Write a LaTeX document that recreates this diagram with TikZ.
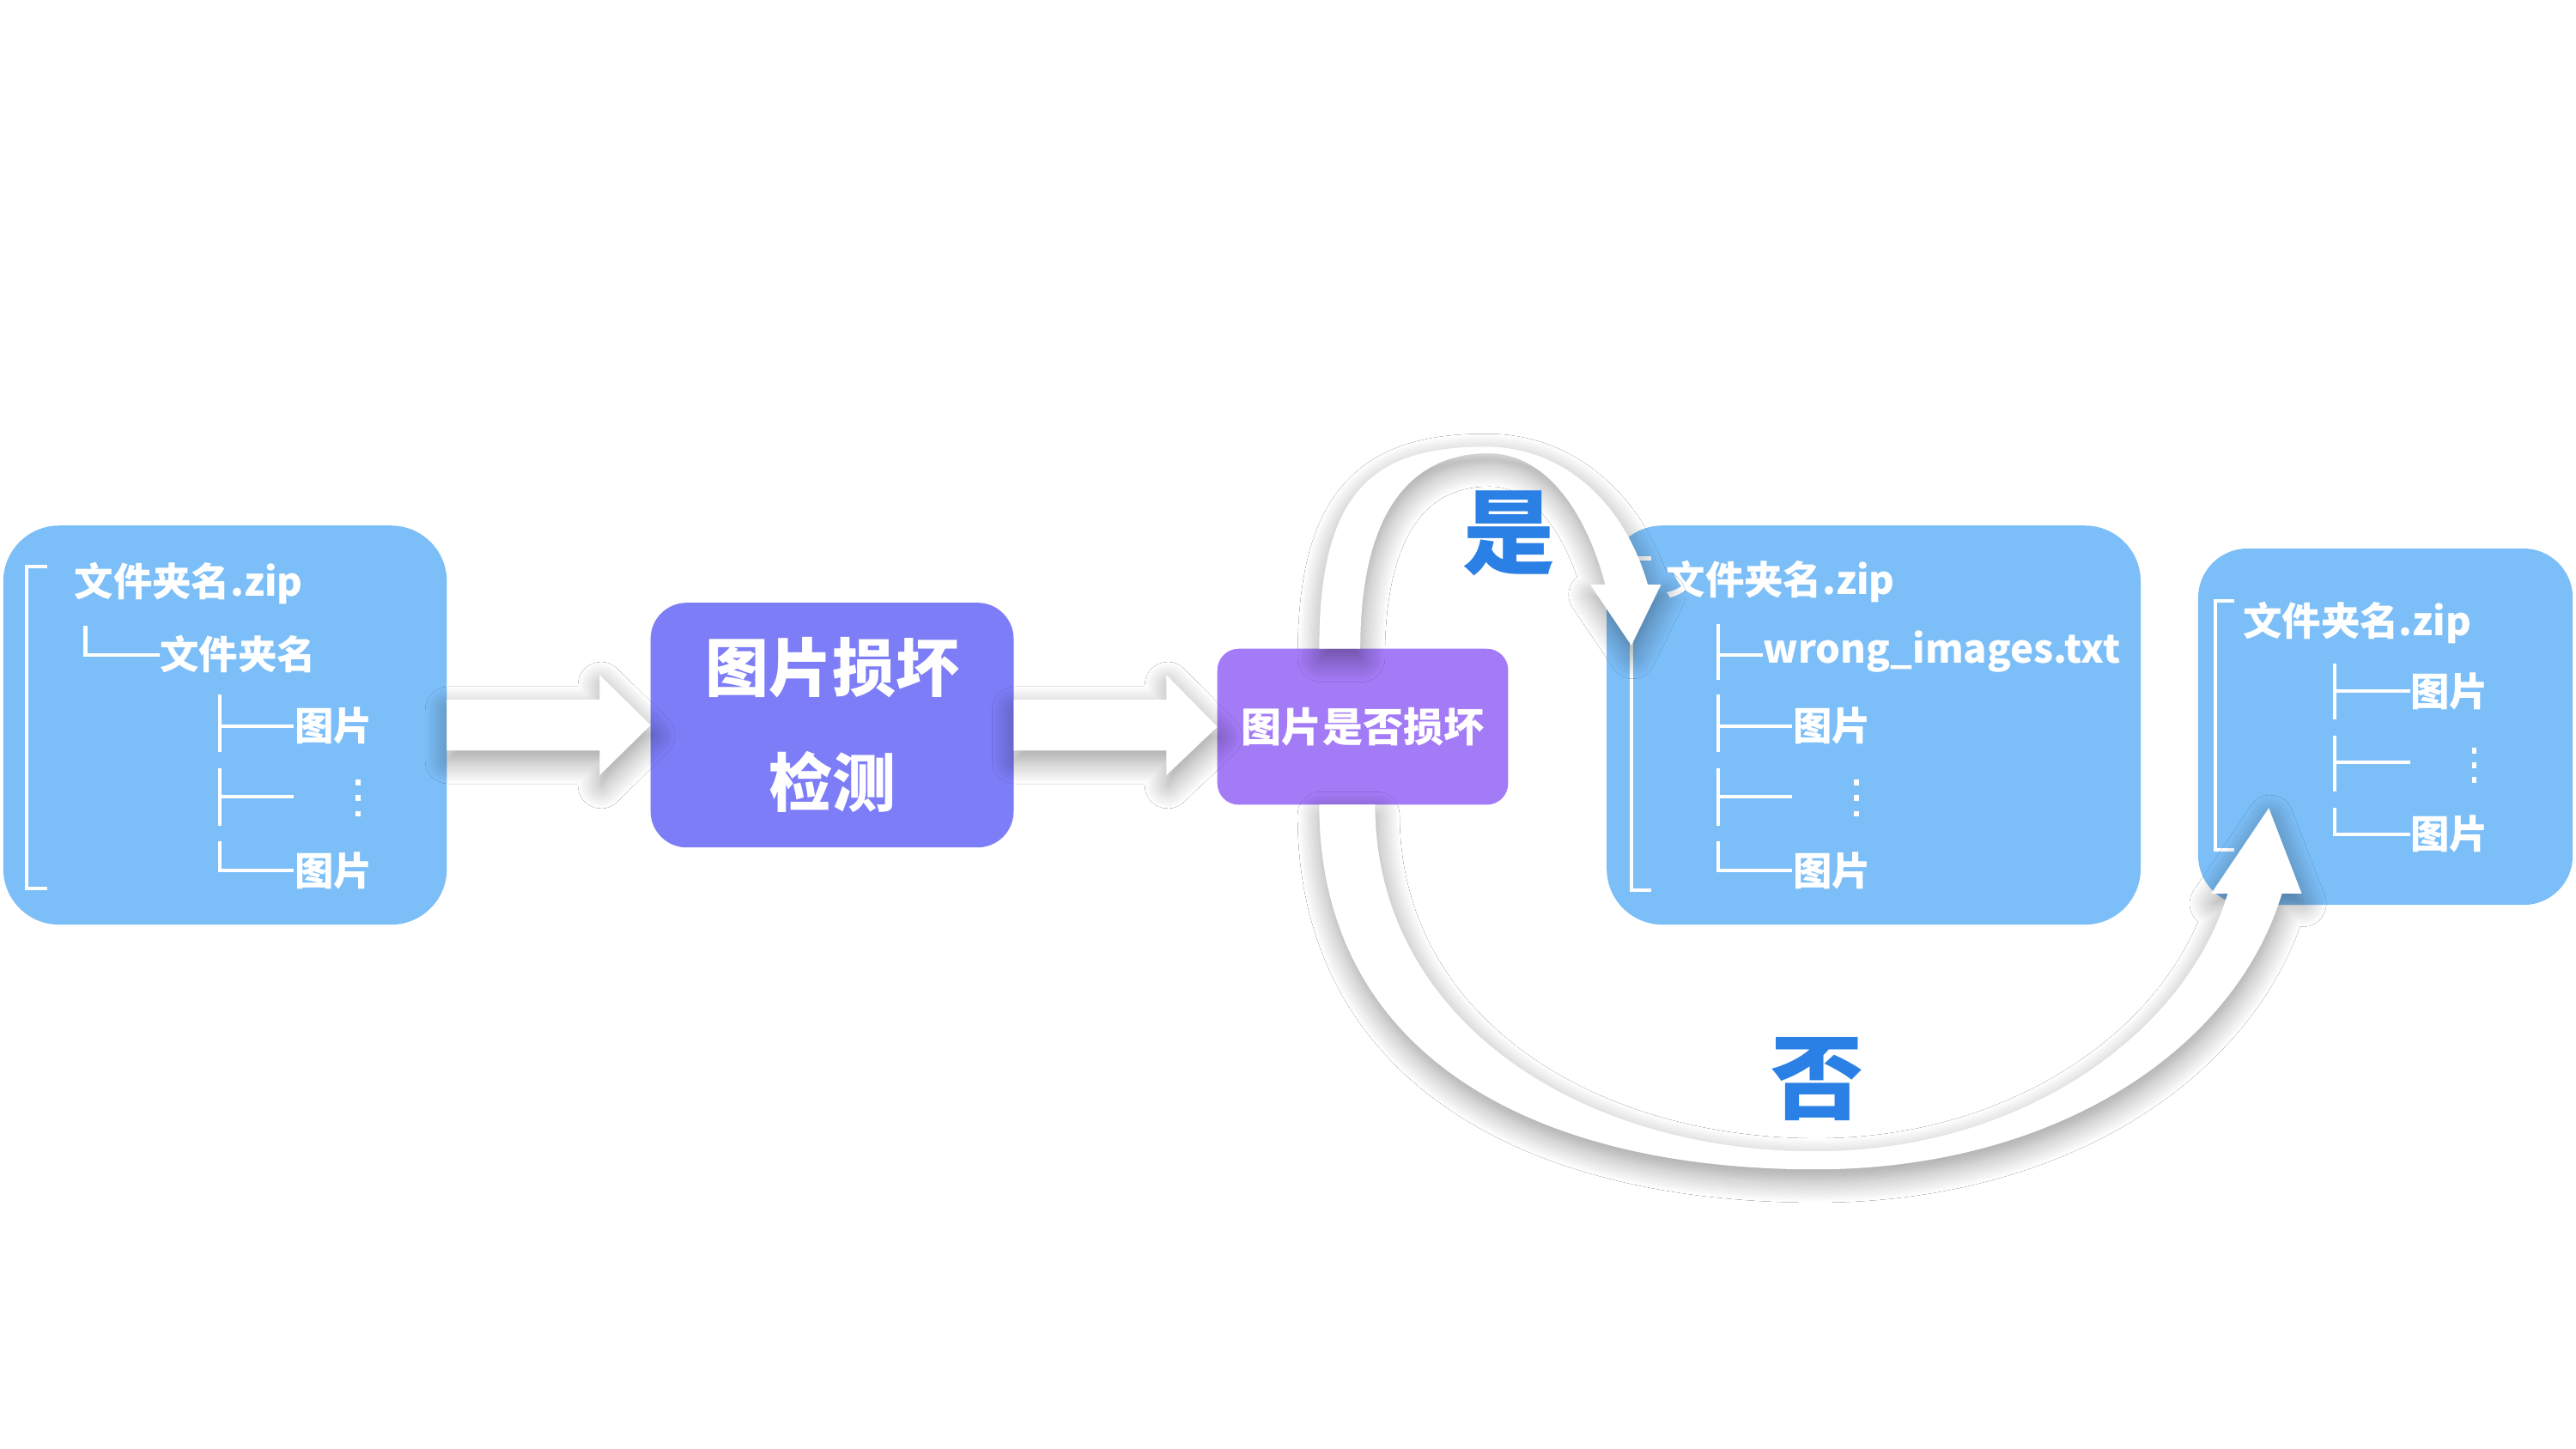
\documentclass[tikz,border=0pt]{standalone}
\usepackage{fontspec}
\newfontfamily\cjk{Noto Sans CJK SC}
\usetikzlibrary{calc,shadows.blur}
\newlength\uu
\setlength\uu{0.2mm}
\definecolor{boxblue}{RGB}{124,190,247}
\definecolor{boxviolet}{RGB}{125,125,248}
\definecolor{boxpurple}{RGB}{164,123,247}
\definecolor{labelblue}{RGB}{42,128,228}
\tikzset{
  panel/.style={rounded corners=34\uu, inner sep=0pt, outer sep=0pt, draw=none, fill=boxblue},
  treeline/.style={white, line width=1.2pt},
  treetxt/.style={text=white, font=\cjk\bfseries\fontsize{13.5}{15}\selectfont, anchor=west, inner sep=0pt},
  dotsq/.style={fill=white, draw=none},
  bigarrow/.style={fill=white, draw=none, blur shadow={shadow xshift=0.5pt, shadow yshift=-3.5pt, shadow blur radius=8pt, shadow blur steps=12, shadow opacity=40}},
  answer/.style={text=labelblue, font=\cjk\bfseries\fontsize{32}{34}\selectfont, inner sep=0pt},
}
\begin{document}
\begin{tikzpicture}[x=0.2mm,y=-0.2mm]
\useasboundingbox (0,0) rectangle (1568,882);
\fill[white] (0,0) rectangle (1568,882);

% ---------- boxes ----------
\node[panel, minimum width=270\uu, minimum height=243\uu] (b1) at (137,441.5) {};
\node[panel, rounded corners=22\uu, fill=boxviolet, minimum width=221\uu, minimum height=149\uu,
      text=white, align=center, font=\cjk\bfseries\fontsize{22}{40}\selectfont] (b2) at (506.5,441.5) {图片损坏\\检测};
\node[panel, rounded corners=13\uu, fill=boxpurple, minimum width=177\uu, minimum height=95\uu,
      text=white, font=\cjk\bfseries\fontsize{14}{16}\selectfont] (b3) at (829.5,442.5) {图片是否损坏};
\node[panel, minimum width=325\uu, minimum height=243\uu] (b4) at (1140.5,441.5) {};
\node[panel, rounded corners=30\uu, minimum width=228\uu, minimum height=217\uu] (b5) at (1452,442.5) {};

% ---------- tree in box 1 ----------
\draw[treeline] (29,345) -- (16,345) -- (16,541) -- (29,541);
\node[treetxt] (t1a) at (45,355) {文件夹名.zip};
\draw[treeline] (52,381) |- (97,399);
\node[treetxt] (t1b) at (97,398) {文件夹名};
\draw[treeline] (134,423) -- (134,458) (134,442) -- (179,442);
\node[treetxt] (t1c) at (179,442) {图片};
\draw[treeline] (134,468) -- (134,503) (134,485) -- (179,485);
\foreach \yy in {476.5,486,495.5} \fill[dotsq] (216.5,\yy-1.8) rectangle (219.5,\yy+1.8);
\draw[treeline] (134,512) |- (179,530);
\node[treetxt] (t1d) at (179,530) {图片};

% ---------- tree in box 4 ----------
\draw[treeline] (1005,340) -- (993,340) -- (993,542) -- (1005,542);
\node[treetxt] (t4a) at (1014,354) {文件夹名.zip};
\draw[treeline] (1046,380) -- (1046,414) (1046,399) -- (1073,399);
\node[treetxt] (t4b) at (1073,397) {wrong\_images.txt};
\draw[treeline] (1046,423) -- (1046,458) (1046,442) -- (1091,442);
\node[treetxt] (t4c) at (1091,442) {图片};
\draw[treeline] (1046,468) -- (1046,503) (1046,485) -- (1091,485);
\foreach \yy in {476.5,486,495.5} \fill[dotsq] (1128.5,\yy-1.8) rectangle (1131.5,\yy+1.8);
\draw[treeline] (1046,512) |- (1091,530);
\node[treetxt] (t4d) at (1091,530) {图片};

% ---------- tree in box 5 ----------
\draw[treeline] (1360,366) -- (1348.5,366) -- (1348.5,517.5) -- (1360,517.5);
\node[treetxt] (t5a) at (1365,379) {文件夹名.zip};
\draw[treeline] (1421,404) -- (1421,438) (1421,421) -- (1467,421);
\node[treetxt] (t5b) at (1467,421) {图片};
\draw[treeline] (1421,448) -- (1421,482) (1421,464) -- (1467,464);
\foreach \yy in {457,466,475} \fill[dotsq] (1504.5,\yy-1.8) rectangle (1507.5,\yy+1.8);
\draw[treeline] (1421,492) |- (1467,508);
\node[treetxt] (t5c) at (1467,508) {图片};

% ---------- straight block arrows ----------
\path[bigarrow] ($(b1.east)+(0,-15.5)$) -- ($(b2.west)+(-31,-15.5)$) -- ($(b2.west)+(-31,-30.5)$)
  -- (b2.west) -- ($(b2.west)+(-31,30.5)$) -- ($(b2.west)+(-31,15.5)$) -- ($(b1.east)+(0,15.5)$) -- cycle;
\path[bigarrow] ($(b2.east)+(0,-15.5)$) -- ($(b3.west)+(-31,-16.5)$) -- ($(b3.west)+(-31,-31.5)$)
  -- (b3.west) -- ($(b3.west)+(-31,29.5)$) -- ($(b3.west)+(-31,14.5)$) -- ($(b2.east)+(0,15.5)$) -- cycle;

% ---------- curved arrow: yes ----------
\coordinate (yt) at ($(b4.north west)+(15,73)$);
\path[bigarrow] ($(b3.north west)+(62,0)$) .. controls (803,300) and (835,272) .. (904,272)
  .. controls (955,272) and (990,310) .. (1003,356) -- (1011,356) -- (yt) -- (968,356) -- (977,356)
  .. controls (968,320) and (945,276) .. (906,276)
  .. controls (860,276) and (828,310) .. ($(b3.north west)+(87,0)$) -- cycle;

% ---------- curved arrow: no ----------
\coordinate (nt) at ($(b5.south west)+(43,-59)$);
\path[bigarrow] ($(b3.south west)+(62,0)$) .. controls (803,640) and (930,712) .. (1105,712)
  .. controls (1250,712) and (1360,640) .. (1389,544) -- (1401,544) -- (nt) -- (1346,544) -- (1356,544)
  .. controls (1330,630) and (1230,701) .. (1105,701)
  .. controls (960,701) and (837,620) .. ($(b3.south west)+(96,0)$) -- cycle;

% ---------- answers ----------
\node[answer] (yes) at (918.5,325) {是};
\node[answer] (no) at (1106,657) {否};
\end{tikzpicture}
\end{document}
